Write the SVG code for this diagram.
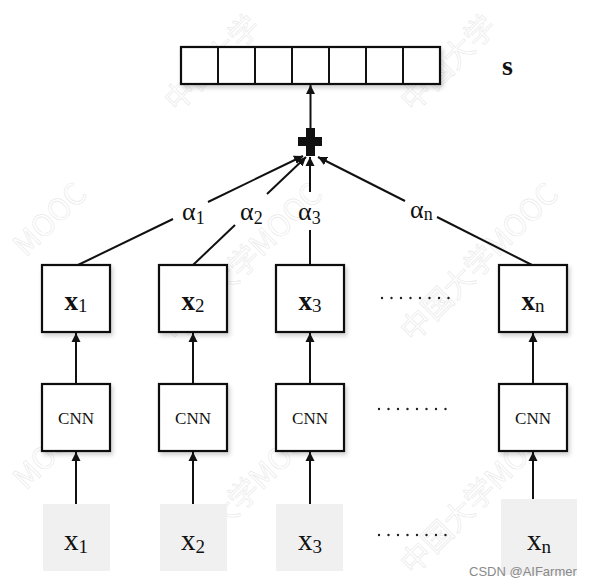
<svg xmlns="http://www.w3.org/2000/svg" width="590" height="586" viewBox="0 0 590 586">
<defs>
<style>
.box{fill:#ffffff;stroke:#111;stroke-width:2.2}
.gray{fill:#f0f0f0}
.ln{stroke:#111;stroke-width:2;fill:none}
.dots{stroke:#222;stroke-width:2.4;stroke-linecap:round;stroke-dasharray:0 9.5}
.serif{font-family:"Liberation Serif","Times New Roman",serif;fill:#111}
.wm{font-family:"Noto Sans CJK SC","Noto Sans",sans-serif;font-size:30px;fill:none;stroke:#e8e8e8;stroke-width:0.6}
</style>
<marker id="ah" viewBox="0 0 10 10" refX="10" refY="5" markerWidth="9" markerHeight="10" markerUnits="userSpaceOnUse" orient="auto">
<path d="M0,0 L10,5 L0,10 Z" fill="#111"/>
</marker>
<filter id="sh" x="-20%" y="-20%" width="150%" height="150%">
<feDropShadow dx="2" dy="3" stdDeviation="2" flood-color="#000" flood-opacity="0.18"/>
</filter>
</defs>
<rect width="590" height="586" fill="#ffffff"/>
<g id="watermarks">
<text class="wm" transform="translate(177,113) rotate(-45)">中国大学</text>
<text class="wm" transform="translate(413,113) rotate(-45)">中国大学</text>
<text class="wm" transform="translate(26,258) rotate(-45)">MOOC</text>
<text class="wm" transform="translate(177,343) rotate(-45)">中国大学MOOC</text>
<text class="wm" transform="translate(413,343) rotate(-45)">中国大学MOOC</text>
<text class="wm" transform="translate(26,491) rotate(-45)">MOOC</text>
<text class="wm" transform="translate(177,576) rotate(-45)">中国大学MOOC</text>
<text class="wm" transform="translate(413,576) rotate(-45)">中国大学MOOC</text>
</g>
<g id="s-vector">
<rect x="181" y="47" width="259" height="37" class="box" filter="url(#sh)"/>
<path class="ln" d="M218,47V84M255,47V84M292,47V84M329,47V84M366,47V84M403,47V84" stroke-width="2.2"/>
<text class="serif" x="502" y="75" font-size="28" font-weight="bold">s</text>
</g>
<g id="plus">
<rect x="306" y="128" width="9" height="28" fill="#111"/>
<rect x="298" y="137" width="24" height="9" fill="#111"/>
</g>
<g id="connectors">
<line class="ln" x1="310.5" y1="128" x2="310.5" y2="85" marker-end="url(#ah)"/>
<line class="ln" x1="78" y1="265" x2="173" y2="219"/>
<line class="ln" x1="208" y1="202" x2="303" y2="156" marker-end="url(#ah)"/>
<line class="ln" x1="193" y1="265" x2="235" y2="225"/>
<line class="ln" x1="267" y1="194" x2="306" y2="157" marker-end="url(#ah)"/>
<line class="ln" x1="310" y1="265" x2="310" y2="230"/>
<line class="ln" x1="310" y1="192" x2="310" y2="157" marker-end="url(#ah)"/>
<line class="ln" x1="532" y1="265" x2="437" y2="217"/>
<line class="ln" x1="405" y1="201" x2="318" y2="157" marker-end="url(#ah)"/>
<line class="ln" x1="76" y1="384" x2="76" y2="333" marker-end="url(#ah)"/>
<line class="ln" x1="193" y1="384" x2="193" y2="333" marker-end="url(#ah)"/>
<line class="ln" x1="310" y1="384" x2="310" y2="333" marker-end="url(#ah)"/>
<line class="ln" x1="533" y1="384" x2="533" y2="333" marker-end="url(#ah)"/>
<line class="ln" x1="76" y1="505" x2="76" y2="452" marker-end="url(#ah)"/>
<line class="ln" x1="193" y1="505" x2="193" y2="452" marker-end="url(#ah)"/>
<line class="ln" x1="310" y1="505" x2="310" y2="452" marker-end="url(#ah)"/>
<line class="ln" x1="533" y1="505" x2="533" y2="452" marker-end="url(#ah)"/>
</g>
<g id="alpha-labels" class="serif" font-size="26">
<text x="182" y="220">α<tspan font-size="18" dy="4">1</tspan></text>
<text x="240" y="220">α<tspan font-size="18" dy="4">2</tspan></text>
<text x="298" y="220">α<tspan font-size="18" dy="4">3</tspan></text>
<text x="410" y="218">α<tspan font-size="18" dy="2">n</tspan></text>
</g>
<g id="h1">
<rect x="42" y="265" width="68" height="67" class="box" filter="url(#sh)"/>
<text class="serif" x="76" y="310" text-anchor="middle" font-size="27" font-weight="bold">x<tspan font-weight="normal" font-size="19" dy="2">1</tspan></text>
</g>
<g id="h2">
<rect x="159" y="265" width="68" height="67" class="box" filter="url(#sh)"/>
<text class="serif" x="193" y="310" text-anchor="middle" font-size="27" font-weight="bold">x<tspan font-weight="normal" font-size="19" dy="2">2</tspan></text>
</g>
<g id="h3">
<rect x="276" y="265" width="68" height="67" class="box" filter="url(#sh)"/>
<text class="serif" x="310" y="310" text-anchor="middle" font-size="27" font-weight="bold">x<tspan font-weight="normal" font-size="19" dy="2">3</tspan></text>
</g>
<g id="hn">
<rect x="499" y="265" width="68" height="67" class="box" filter="url(#sh)"/>
<text class="serif" x="533" y="310" text-anchor="middle" font-size="27" font-weight="bold">x<tspan font-weight="normal" font-size="19" dy="2">n</tspan></text>
</g>
<g id="cnn1">
<rect x="42" y="384" width="68" height="67" class="box" filter="url(#sh)"/>
<text class="serif" x="76" y="424" text-anchor="middle" font-size="17">CNN</text>
</g>
<g id="cnn2">
<rect x="159" y="384" width="68" height="67" class="box" filter="url(#sh)"/>
<text class="serif" x="193" y="424" text-anchor="middle" font-size="17">CNN</text>
</g>
<g id="cnn3">
<rect x="276" y="384" width="68" height="67" class="box" filter="url(#sh)"/>
<text class="serif" x="310" y="424" text-anchor="middle" font-size="17">CNN</text>
</g>
<g id="cnnn">
<rect x="499" y="384" width="68" height="67" class="box" filter="url(#sh)"/>
<text class="serif" x="533" y="424" text-anchor="middle" font-size="17">CNN</text>
</g>
<g id="in1">
<rect x="43" y="504" width="67" height="67" class="gray"/>
<text class="serif" x="76" y="550" text-anchor="middle" font-size="29">x<tspan font-size="19" dy="3">1</tspan></text>
</g>
<g id="in2">
<rect x="160" y="504" width="67" height="67" class="gray"/>
<text class="serif" x="193" y="550" text-anchor="middle" font-size="29">x<tspan font-size="19" dy="3">2</tspan></text>
</g>
<g id="in3">
<rect x="276" y="504" width="67" height="67" class="gray"/>
<text class="serif" x="310" y="550" text-anchor="middle" font-size="29">x<tspan font-size="19" dy="3">3</tspan></text>
</g>
<g id="inn">
<rect x="501" y="499" width="76" height="76" class="gray"/>
<text class="serif" x="539" y="550" text-anchor="middle" font-size="29">x<tspan font-size="19" dy="3">n</tspan></text>
</g>
<g id="ellipses">
<line class="dots" x1="382" y1="298" x2="450" y2="298"/>
<line class="dots" x1="379" y1="409" x2="447" y2="409"/>
<line class="dots" x1="379" y1="535" x2="447" y2="535"/>
</g>
<text x="469" y="576" font-family="Liberation Sans, Arial, sans-serif" font-size="13" fill="#8a8a8a">CSDN @AIFarmer</text>
</svg>
